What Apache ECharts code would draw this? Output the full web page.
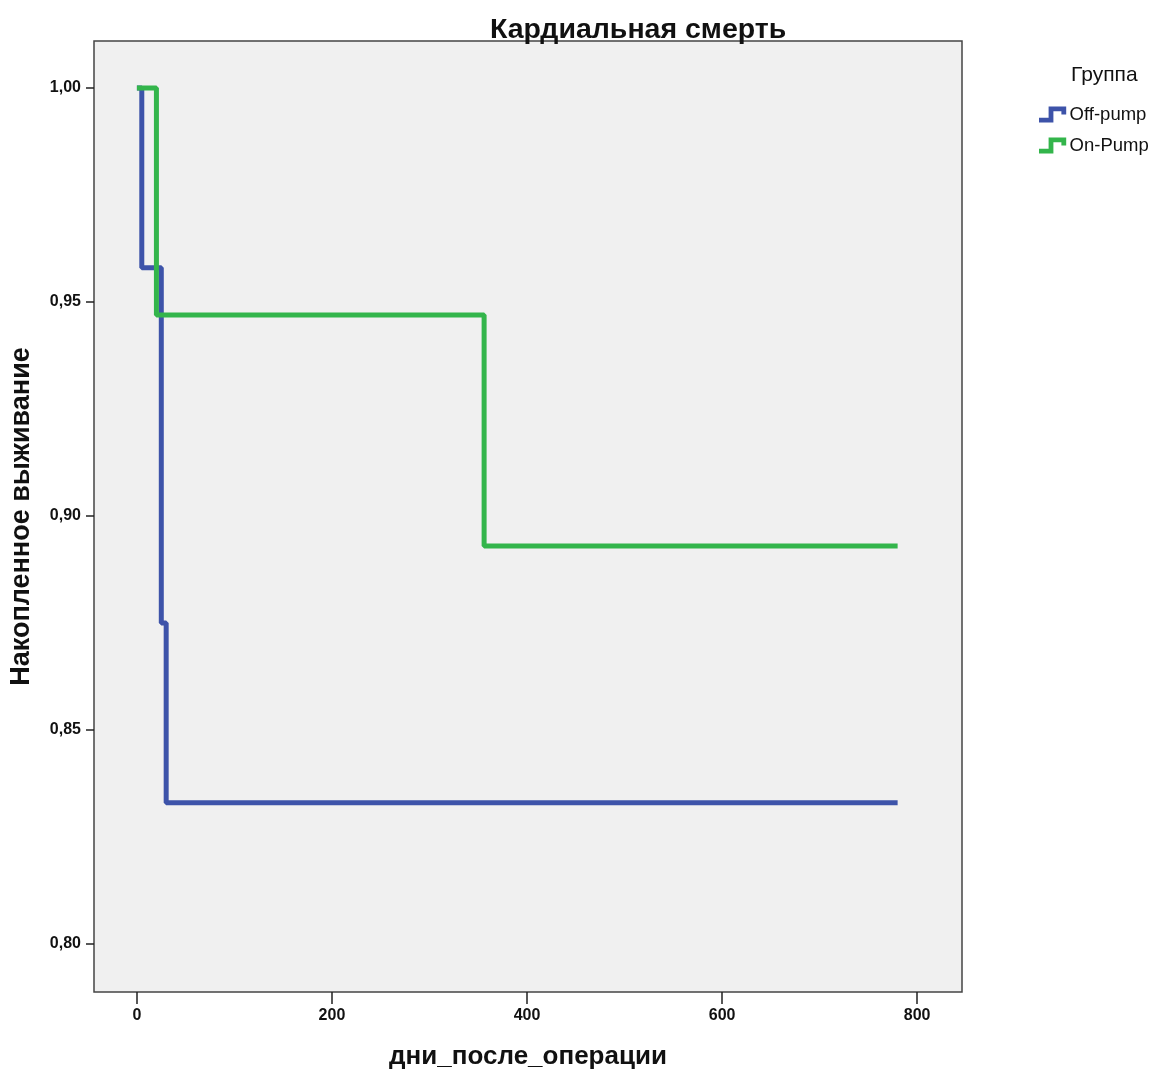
<!DOCTYPE html>
<html>
<head>
<meta charset="utf-8">
<script src="https://cdn.jsdelivr.net/npm/echarts@6/dist/echarts.min.js"></script>
<style>
  html, body { margin: 0; padding: 0; background: #fff; }
  #main { width: 1169px; height: 1072px; }
</style>
</head>
<body>
<div id="main"></div>
<script>
// Kaplan-Meier steps: [day, cumulative survival]
const offPump = [[0, 1.0], [5, 0.958], [25, 0.875], [30, 0.833], [780, 0.833]]
const onPump = [[0, 1.0], [20, 0.947], [356, 0.893], [780, 0.893]]
const xTicks = [0, 200, 400, 600, 800]
const yTicks = [0.80, 0.85, 0.90, 0.95, 1.00]

const colors = ["#3d53a9", "#33b54b"]
const stepIcon = "path://M0,7 L6,7 L6,0 L17,0 L17,5 L14,5 L14,3 L9,3 L9,10 L0,10 Z"
const fontMain = "'Liberation Sans', Arial, sans-serif"

var chartDom = document.getElementById("main")
var myChart = echarts.init(chartDom)
var option = {
  animation: false,
  color: colors,
  title: [
    {
      text: "Кардиальная смерть",
      left: 485,
      top: 11,
      textStyle: { fontFamily: fontMain, fontSize: 28.5, fontWeight: "bold", color: "#111" }
    },
    {
      text: "Группа",
      left: 1066,
      top: 60,
      textStyle: { fontFamily: fontMain, fontSize: 21, fontWeight: "normal", color: "#111" }
    }
  ],
  legend: {
    orient: "vertical",
    left: 1034,
    top: 100,
    itemWidth: 32,
    itemHeight: 16,
    itemGap: 12,
    icon: stepIcon,
    textStyle: { fontFamily: fontMain, fontSize: 18.5, color: "#111", padding: [0, 0, 0, -4] },
    data: ["Off-pump", "On-Pump"]
  },
  grid: {
    left: 94,
    top: 41,
    width: 868,
    height: 951,
    outerBoundsMode: "none",
    show: true,
    backgroundColor: "#f0f0f0",
    borderColor: "#444",
    borderWidth: 1.5
  },
  xAxis: {
    type: "value",
    min: -44,
    max: 846,
    name: "дни_после_операции",
    nameLocation: "middle",
    nameGap: 52,
    nameTextStyle: { fontFamily: fontMain, fontSize: 26, fontWeight: "bold", color: "#111" },
    axisLine: { show: false, onZero: false },
    splitLine: { show: false },
    axisTick: { show: true, length: 12, lineStyle: { color: "#222", width: 1.5 }, customValues: xTicks },
    axisLabel: {
      customValues: xTicks,
      margin: 16,
      fontFamily: fontMain,
      fontSize: 16,
      fontWeight: "bold",
      color: "#111"
    }
  },
  yAxis: {
    type: "value",
    min: 0.7888,
    max: 1.011,
    name: "Накопленное выживание",
    nameLocation: "middle",
    nameGap: 59,
    nameTextStyle: { fontFamily: fontMain, fontSize: 27, fontWeight: "bold", color: "#111" },
    axisLine: { show: false, onZero: false },
    splitLine: { show: false },
    axisTick: { show: true, length: 8, lineStyle: { color: "#222", width: 1.5 }, customValues: yTicks },
    axisLabel: {
      customValues: yTicks,
      margin: 13,
      fontFamily: fontMain,
      fontSize: 16,
      fontWeight: "bold",
      color: "#111",
      formatter: function (v) { return v.toFixed(2).replace(".", ",") }
    }
  },
  series: [
    {
      name: "Off-pump",
      type: "line",
      step: "end",
      showSymbol: false,
      symbol: "none",
      lineStyle: { width: 5, color: colors[0] },
      data: offPump
    },
    {
      name: "On-Pump",
      type: "line",
      step: "end",
      showSymbol: false,
      symbol: "none",
      lineStyle: { width: 5, color: colors[1] },
      data: onPump
    }
  ]
}
option && myChart.setOption(option)
</script>
</body>
</html>
